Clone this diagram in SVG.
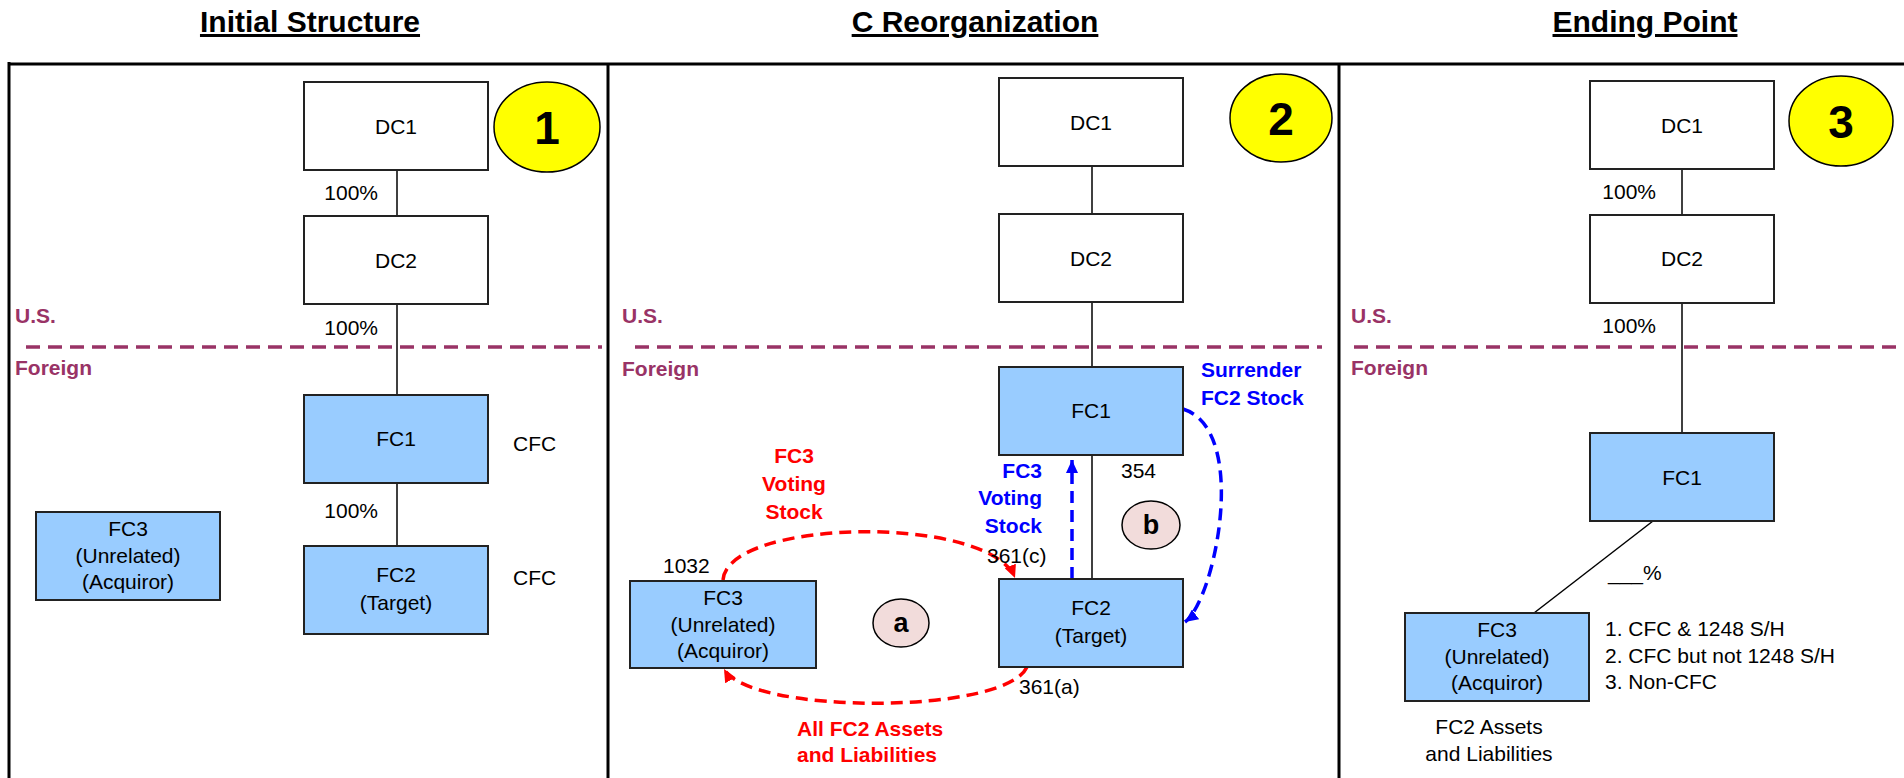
<svg xmlns="http://www.w3.org/2000/svg" width="1904" height="778" viewBox="0 0 1904 778">
<style>
text{font-family:"Liberation Sans",Arial,sans-serif;font-size:21px;fill:#000}
.title{font-size:30px;font-weight:bold;text-decoration:underline;text-anchor:middle}
.c{text-anchor:middle}
.e{text-anchor:end}
.b{font-weight:bold}
.reg{fill:#993366;font-weight:bold}
.red{fill:#FF0000;font-weight:bold}
.blue{fill:#0000FF;font-weight:bold}
.num{font-size:46px;font-weight:bold;text-anchor:middle}
.lt{font-size:27px;font-weight:bold;text-anchor:middle}
.wbox{fill:#FFFFFF;stroke:#222;stroke-width:2}
.fbox{fill:#99CCFF;stroke:#222;stroke-width:2}
.yel{fill:#FFFF00;stroke:#000;stroke-width:1.5}
.step{fill:#F2DCDB;stroke:#000;stroke-width:1.5}
.frame{stroke:#000;stroke-width:3;fill:none}
.border{stroke:#993366;stroke-width:3.5;stroke-dasharray:14 8;fill:none}
.ln{stroke:#000;stroke-width:1.5;fill:none}
.rd{stroke:#FF0000;stroke-width:3.5;stroke-dasharray:12 7;fill:none}
.bd{stroke:#0000FF;stroke-width:3.5;stroke-dasharray:12 7;fill:none}
</style>
<defs>
<marker id="ar" markerUnits="userSpaceOnUse" markerWidth="14" markerHeight="12" refX="13" refY="6" orient="auto"><path d="M0,0 L13,6 L0,12 z" fill="#FF0000"/></marker>
<marker id="ab" markerUnits="userSpaceOnUse" markerWidth="14" markerHeight="12" refX="13" refY="6" orient="auto"><path d="M0,0 L13,6 L0,12 z" fill="#0000FF"/></marker>
</defs>
<rect width="1904" height="778" fill="#FFFFFF"/>

<g id="titles">
<text class="title" x="310" y="32">Initial Structure</text>
<text class="title" x="975" y="32">C Reorganization</text>
<text class="title" x="1645" y="32">Ending Point</text>
</g>

<g id="frame">
<line class="frame" x1="8" y1="64" x2="1904" y2="64"/>
<line class="frame" x1="9" y1="62" x2="9" y2="778"/>
<line class="frame" x1="608" y1="64" x2="608" y2="778"/>
<line class="frame" x1="1339" y1="64" x2="1339" y2="778"/>
</g>

<g id="borders">
<line class="border" x1="26" y1="347" x2="602" y2="347"/>
<line class="border" x1="635" y1="347" x2="1322" y2="347"/>
<line class="border" x1="1354" y1="347" x2="1904" y2="347"/>
<text class="reg" x="15" y="323">U.S.</text>
<text class="reg" x="15" y="375">Foreign</text>
<text class="reg" x="622" y="323">U.S.</text>
<text class="reg" x="622" y="376">Foreign</text>
<text class="reg" x="1351" y="323">U.S.</text>
<text class="reg" x="1351" y="375">Foreign</text>
</g>

<g id="connectors">
<line class="ln" x1="397" y1="170" x2="397" y2="216"/>
<line class="ln" x1="397" y1="304" x2="397" y2="395"/>
<line class="ln" x1="397" y1="483" x2="397" y2="546"/>
<line class="ln" x1="1092" y1="166" x2="1092" y2="214"/>
<line class="ln" x1="1092" y1="302" x2="1092" y2="367"/>
<line class="ln" x1="1092" y1="455" x2="1092" y2="579"/>
<line class="ln" x1="1682" y1="169" x2="1682" y2="215"/>
<line class="ln" x1="1682" y1="303" x2="1682" y2="433"/>
<line class="ln" x1="1653" y1="521" x2="1534" y2="613"/>
<path class="rd" d="M723,580 C728,518 990,514 1015,578" marker-end="url(#ar)"/>
<path class="rd" d="M1027,667 C1005,715 750,715 724,669" marker-end="url(#ar)"/>
<line class="bd" x1="1072" y1="579" x2="1072" y2="460" marker-end="url(#ab)"/>
<path class="bd" d="M1183,409 C1250,430 1215,600 1185,622" marker-end="url(#ab)"/>
</g>

<g id="p1-dc1"><rect class="wbox" x="304" y="82" width="184" height="88"/><text class="c" x="396" y="134">DC1</text></g>
<g id="p1-dc2"><rect class="wbox" x="304" y="216" width="184" height="88"/><text class="c" x="396" y="268">DC2</text></g>
<g id="p1-fc1"><rect class="fbox" x="304" y="395" width="184" height="88"/><text class="c" x="396" y="446">FC1</text></g>
<g id="p1-fc2"><rect class="fbox" x="304" y="546" width="184" height="88"/><text class="c" x="396" y="582">FC2</text><text class="c" x="396" y="610">(Target)</text></g>
<g id="p1-fc3"><rect class="fbox" x="36" y="512" width="184" height="88"/><text class="c" x="128" y="536">FC3</text><text class="c" x="128" y="563">(Unrelated)</text><text class="c" x="128" y="589">(Acquiror)</text></g>
<g id="p1-step"><ellipse class="yel" cx="547" cy="127" rx="53" ry="45"/><text class="num" x="547" y="144">1</text></g>
<g id="p1-labels">
<text class="e" x="378" y="200">100%</text>
<text class="e" x="378" y="335">100%</text>
<text class="e" x="378" y="518">100%</text>
<text x="513" y="451">CFC</text>
<text x="513" y="585">CFC</text>
</g>

<g id="p2-dc1"><rect class="wbox" x="999" y="78" width="184" height="88"/><text class="c" x="1091" y="130">DC1</text></g>
<g id="p2-dc2"><rect class="wbox" x="999" y="214" width="184" height="88"/><text class="c" x="1091" y="266">DC2</text></g>
<g id="p2-fc1"><rect class="fbox" x="999" y="367" width="184" height="88"/><text class="c" x="1091" y="418">FC1</text></g>
<g id="p2-fc2"><rect class="fbox" x="999" y="579" width="184" height="88"/><text class="c" x="1091" y="615">FC2</text><text class="c" x="1091" y="643">(Target)</text></g>
<g id="p2-fc3"><rect class="fbox" x="630" y="581" width="186" height="87"/><text class="c" x="723" y="605">FC3</text><text class="c" x="723" y="632">(Unrelated)</text><text class="c" x="723" y="658">(Acquiror)</text></g>
<g id="p2-step"><ellipse class="yel" cx="1281" cy="118" rx="51" ry="44"/><text class="num" x="1281" y="135">2</text></g>
<g id="p2-a"><ellipse class="step" cx="901" cy="623" rx="28" ry="24"/><text class="lt" x="901" y="632">a</text></g>
<g id="p2-b"><ellipse class="step" cx="1151" cy="525" rx="29" ry="24"/><text class="lt" x="1151" y="534">b</text></g>
<g id="p2-labels">
<text x="663" y="573">1032</text>
<text x="987" y="563">361(c)</text>
<text x="1121" y="478">354</text>
<text x="1019" y="694">361(a)</text>
<text class="red c" x="794" y="463">FC3</text>
<text class="red c" x="794" y="491">Voting</text>
<text class="red c" x="794" y="519">Stock</text>
<text class="blue e" x="1042" y="478">FC3</text>
<text class="blue e" x="1042" y="505">Voting</text>
<text class="blue e" x="1042" y="533">Stock</text>
<text class="blue" x="1201" y="377">Surrender</text>
<text class="blue" x="1201" y="405">FC2 Stock</text>
<text class="red" x="797" y="736">All FC2 Assets</text>
<text class="red" x="797" y="762">and Liabilities</text>
</g>

<g id="p3-dc1"><rect class="wbox" x="1590" y="81" width="184" height="88"/><text class="c" x="1682" y="133">DC1</text></g>
<g id="p3-dc2"><rect class="wbox" x="1590" y="215" width="184" height="88"/><text class="c" x="1682" y="266">DC2</text></g>
<g id="p3-fc1"><rect class="fbox" x="1590" y="433" width="184" height="88"/><text class="c" x="1682" y="485">FC1</text></g>
<g id="p3-fc3"><rect class="fbox" x="1405" y="613" width="184" height="88"/><text class="c" x="1497" y="637">FC3</text><text class="c" x="1497" y="664">(Unrelated)</text><text class="c" x="1497" y="690">(Acquiror)</text></g>
<g id="p3-step"><ellipse class="yel" cx="1841" cy="121" rx="52" ry="45"/><text class="num" x="1841" y="138">3</text></g>
<g id="p3-labels">
<text class="e" x="1656" y="199">100%</text>
<text class="e" x="1656" y="333">100%</text>
<text x="1608" y="580">___%</text>
<text x="1605" y="636">1. CFC &amp; 1248 S/H</text>
<text x="1605" y="663">2. CFC but not 1248 S/H</text>
<text x="1605" y="689">3. Non-CFC</text>
<text class="c" x="1489" y="734">FC2 Assets</text>
<text class="c" x="1489" y="761">and Liabilities</text>
</g>
</svg>
